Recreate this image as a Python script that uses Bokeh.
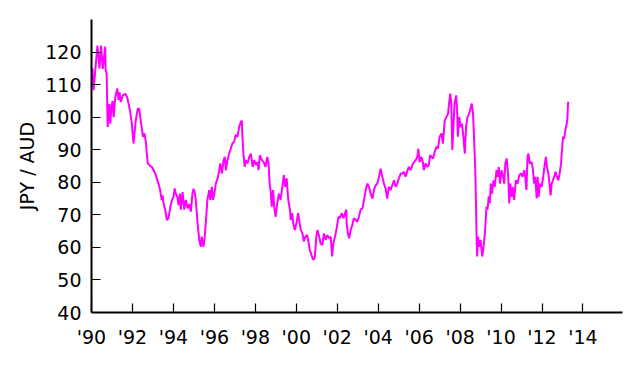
from bokeh.plotting import figure
from bokeh.models import FixedTicker, Range1d
from bokeh.embed import file_html
from bokeh.resources import INLINE

years = [
    1990.00, 1990.05, 1990.10, 1990.29, 1990.39, 1990.47, 1990.55, 1990.67, 1990.69, 1990.74,
    1990.79, 1990.87, 1990.92, 1990.97, 1991.03, 1991.08, 1991.16, 1991.26, 1991.32, 1991.37,
    1991.43, 1991.53, 1991.65, 1991.74, 1991.81, 1991.89, 1991.97, 1992.05, 1992.10, 1992.16,
    1992.26, 1992.33, 1992.38, 1992.46, 1992.51, 1992.59, 1992.66, 1992.70, 1992.75, 1992.87,
    1992.95, 1993.03, 1993.11, 1993.19, 1993.27, 1993.35, 1993.43, 1993.47, 1993.52, 1993.60,
    1993.68, 1993.76, 1993.85, 1993.93, 1994.01, 1994.06,
    1994.12, 1994.20, 1994.25, 1994.32, 1994.36, 1994.45, 1994.53, 1994.61, 1994.69, 1994.77,
    1994.85, 1994.93, 1994.98, 1995.04, 1995.09, 1995.18, 1995.26, 1995.34, 1995.38, 1995.47,
    1995.53, 1995.58, 1995.66, 1995.75, 1995.80, 1995.88, 1995.93, 1996.00, 1996.07, 1996.16,
    1996.24, 1996.29, 1996.37, 1996.45, 1996.51, 1996.56, 1996.64, 1996.72, 1996.80, 1996.88,
    1996.97, 1997.04, 1997.13, 1997.21, 1997.29, 1997.34, 1997.37, 1997.42, 1997.48, 1997.53,
    1997.61, 1997.71, 1997.78, 1997.87, 1997.95, 1998.03, 1998.11, 1998.16, 1998.22, 1998.32,
    1998.41, 1998.50, 1998.58, 1998.64, 1998.71, 1998.75, 1998.80, 1998.87, 1998.92, 1998.99,
    1999.07, 1999.15, 1999.23, 1999.32, 1999.39, 1999.46, 1999.53, 1999.61, 1999.69, 1999.73,
    1999.80, 1999.85, 1999.93, 2000.01, 2000.09, 2000.14, 2000.22, 2000.30, 2000.37, 2000.45,
    2000.53, 2000.61, 2000.66, 2000.74, 2000.82, 2000.90, 2000.98, 2001.03, 2001.12, 2001.19,
    2001.27, 2001.35, 2001.43, 2001.51, 2001.60, 2001.68, 2001.75, 2001.81, 2001.89, 2001.97,
    2002.06, 2002.13, 2002.22, 2002.30, 2002.38, 2002.44,
    2002.46, 2002.52, 2002.59, 2002.65, 2002.74, 2002.81, 2002.90, 2002.98, 2003.06, 2003.14,
    2003.23, 2003.31, 2003.39, 2003.47, 2003.55, 2003.63, 2003.72, 2003.79, 2003.88, 2003.96,
    2004.04, 2004.12, 2004.20, 2004.28, 2004.36, 2004.44, 2004.52, 2004.60, 2004.69, 2004.77,
    2004.85, 2004.93, 2005.01, 2005.10, 2005.18, 2005.26, 2005.34, 2005.43, 2005.50, 2005.59,
    2005.67, 2005.75, 2005.83, 2005.91, 2005.96, 2006.02, 2006.10, 2006.18, 2006.23, 2006.31,
    2006.40, 2006.47, 2006.54,
    2006.68, 2006.76, 2006.84, 2006.92, 2007.00, 2007.09, 2007.16, 2007.25, 2007.33, 2007.41,
    2007.46, 2007.52, 2007.57, 2007.62, 2007.68, 2007.73, 2007.81, 2007.86, 2007.89, 2007.96,
    2008.02, 2008.09, 2008.16, 2008.23, 2008.29, 2008.36, 2008.44, 2008.52, 2008.57, 2008.63,
    2008.68, 2008.71, 2008.75, 2008.80, 2008.83, 2008.88, 2008.93, 2009.00, 2009.08, 2009.13,
    2009.21, 2009.29, 2009.34, 2009.40, 2009.45, 2009.50, 2009.56, 2009.63, 2009.69, 2009.78,
    2009.82, 2009.89, 2009.95, 2010.02, 2010.10, 2010.15, 2010.21, 2010.28, 2010.35, 2010.40,
    2010.45, 2010.51, 2010.56, 2010.64, 2010.72, 2010.81, 2010.89, 2010.97, 2011.05, 2011.13,
    2011.18, 2011.24, 2011.29, 2011.34, 2011.40, 2011.49, 2011.54, 2011.62, 2011.67, 2011.74,
    2011.79, 2011.83, 2011.90, 2011.98, 2012.06, 2012.14, 2012.19, 2012.24, 2012.31, 2012.38,
    2012.42, 2012.47, 2012.53, 2012.62, 2012.66, 2012.73, 2012.80, 2012.86, 2012.93, 2012.96,
    2013.03, 2013.08, 2013.13, 2013.17, 2013.21, 2013.24, 2013.27, 2013.29,
]

jpy_per_aud = [
    112, 115, 108.3, 122, 115, 122, 114.8, 121.7, 114.4, 113.3,
    97, 104, 98, 103, 105, 100, 106, 108.8, 105.3, 107.6,
    104.7, 106.7, 107.2, 106.2, 104.2, 101.6, 98, 91.9, 95, 99,
    102.6, 102.6, 100, 96.5, 94, 95, 92, 88.8, 85.8, 85,
    84.7, 83.7, 82.7, 81.2, 79.6, 77.6, 74.5, 76, 73.5, 71.5,
    68.4, 69, 72.5, 74.5, 75.7, 78.1,
    76.5, 75.3, 73, 76.5, 71.6, 77, 71.6, 74.6, 72, 73.3,
    71, 76.5, 78, 77, 74.6, 67.4, 62.3, 60.2, 63.3, 60.2,
    63.3, 67.4, 74.6, 77.6, 74.6, 78.6, 74.6, 76.5, 79.6, 81.2,
    83.7, 85.8, 82.7, 86.8, 87.8, 83.7, 86.8, 88.8, 90.3, 91.9,
    92.5, 94.5, 94, 97, 98.5, 99, 94, 88.8, 84.7, 86.8,
    85.8, 87.8, 88.8, 84.7, 86.8, 85.3, 86.2, 83.7, 88.3, 86.8,
    86.2, 84.7, 87.8, 86.2, 78.6, 77.6, 72.5, 77.6, 72.5, 69.4,
    73.5, 76.5, 74.6, 78.6, 82.2, 78.6, 81.2, 74.6, 71.6, 68.4,
    70.5, 67.4, 65.3, 67.4, 70.5, 68.4, 65.3, 64.3, 61.8, 63.3,
    63.8, 61.2, 59.2, 57.7, 56.2, 56.7, 63.3, 65.3, 63.3, 61.2,
    60.7, 64.3, 62.3, 63.8, 62.8, 63.3, 57.2, 61.2, 63.3, 65.8,
    69.4, 69, 70.5, 69, 70.5, 71.6,
    67.4, 64.3, 62.8, 65.3, 66.9, 69, 68.4, 67.9, 69.4, 71.6,
    72, 74.6, 77.6, 79.6, 78.6, 76.5, 75, 77.6, 79.1, 79.6,
    81.7, 84.2, 81.7, 79.6, 78.1, 75, 78.6, 77.6, 79.1, 80.6,
    78.6, 79.6, 81.2, 82.7, 82.7, 83.2, 81.7, 83.7, 84.7, 83.7,
    85.3, 86.2, 86.8, 87.8, 90.3, 86.2, 87.8, 86.2, 83.7, 85.8,
    84.7, 85.3, 88.3,
    87.3, 89.3, 90.9, 90.4, 94, 95, 91.9, 99, 100, 101,
    104.2, 107.2, 104.2, 89.9, 98, 104.2, 106.7, 101, 94, 100,
    97, 98, 94, 88.8, 97, 100, 101, 103, 104.2, 101,
    94, 88.8, 81.7, 65.3, 57.2, 63.3, 60.2, 62.3, 57.2, 59.2,
    64.3, 72.5, 71.6, 75.7, 73.5, 79.6, 76.5, 80.6, 78.6, 83.7,
    81.7, 84.7, 79.6, 83.7, 81.7, 79.6, 85.8, 87.3, 81.7, 73.5,
    79.6, 75.5, 78.6, 74.6, 80.6, 79.6, 82.2, 82.7, 81.7, 83.7,
    81.7, 77.6, 87.8, 88.8, 85.8, 86.2, 84.7, 79.6, 81.7, 75,
    81.7, 75.5, 79.6, 78.6, 81.7, 85.8, 87.8, 84.7, 82.7, 78.6,
    76, 79.6, 80.6, 82.2, 83.2, 81.7, 80.6, 82.7, 85.8, 88.8,
    94, 93.4, 95.5, 97, 98, 99.5, 104.2, 104.7,
]

x_ticks = [1990, 1992, 1994, 1996, 1998, 2000, 2002, 2004, 2006, 2008, 2010, 2012, 2014]
x_tick_labels = ["'90", "'92", "'94", "'96", "'98", "'00", "'02", "'04", "'06", "'08", "'10", "'12", "'14"]
y_ticks = [40, 50, 60, 70, 80, 90, 100, 110, 120]
y_label = "JPY / AUD"

FONT = "DejaVu Sans"

p = figure(width=632, height=358, output_backend="svg", toolbar_location=None,
           x_range=Range1d(1990, 2015.93), y_range=Range1d(40, 130),
           min_border_left=91, min_border_right=10, min_border_top=19, min_border_bottom=46)
p.outline_line_color = None
p.xgrid.visible = False
p.ygrid.visible = False
p.background_fill_color = "white"
p.border_fill_color = "white"

p.line(years, jpy_per_aud, line_color="#ff00ff", line_width=2)

for ax in (p.xaxis[0], p.yaxis[0]):
    ax.axis_line_width = 2
    ax.axis_line_color = "black"
    ax.major_tick_in = 9
    ax.major_tick_out = 0
    ax.major_tick_line_color = "black"
    ax.major_tick_line_width = 1.2
    ax.minor_tick_line_color = None
    ax.major_label_text_font = FONT
    ax.major_label_text_font_size = "19px"
    ax.major_label_text_color = "black"

p.xaxis.ticker = FixedTicker(ticks=x_ticks)
p.xaxis.major_label_overrides = {t: lab for t, lab in zip(x_ticks, x_tick_labels)}
p.xaxis.major_label_standoff = 13

p.yaxis.ticker = FixedTicker(ticks=y_ticks)
p.yaxis.major_label_standoff = 10
p.yaxis.axis_label = y_label
p.yaxis.axis_label_text_font = FONT
p.yaxis.axis_label_text_font_size = "19px"
p.yaxis.axis_label_text_font_style = "normal"
p.yaxis.axis_label_text_color = "black"
p.yaxis.axis_label_standoff = 4

open("out.html", "w").write(file_html(p, INLINE))
